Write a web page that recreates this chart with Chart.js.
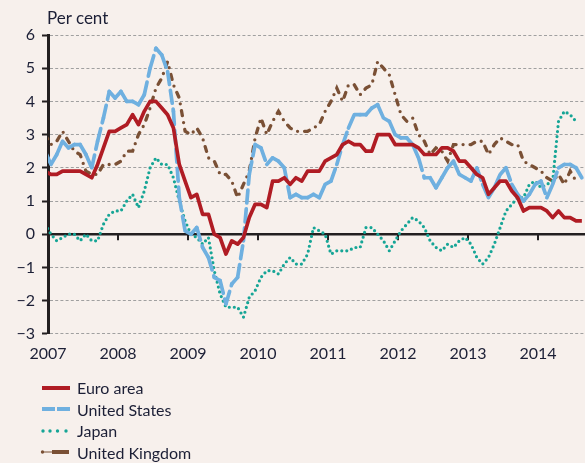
<!DOCTYPE html>
<html lang="en">
<head>
    <meta charset="UTF-8">
    <title>Consumer price inflation</title>
    <script src="https://cdn.jsdelivr.net/npm/chart.js"></script>
    <style>
        body { margin: 0; background: #f7f0ec; font-family: Lato, "Open Sans", sans-serif; color: #1c1f36; }
        #wrap { position: relative; width: 585px; height: 463px; }
        #unit { position: absolute; left: 47px; top: 7px; font-size: 17px; }
        #legend { position: absolute; left: 40px; top: 377px; font-size: 16px; }
        #legend div { height: 21.5px; line-height: 21.5px; display: flex; align-items: center; }
        #legend svg { width: 34px; height: 12px; margin-right: 3px; }
    </style>
</head>
<body>
<div id="wrap">
    <canvas id="inflationChart"></canvas>
    <div id="unit">Per cent</div>
    <div id="legend">
        <div><svg viewBox="0 0 34 12"><line x1="2" y1="6" x2="30" y2="6" stroke="#b01c24" stroke-width="4"/></svg>Euro area</div>
        <div><svg viewBox="0 0 34 12"><line x1="2" y1="6" x2="15" y2="6" stroke="#6fb0e0" stroke-width="4"/><line x1="17" y1="6" x2="30" y2="6" stroke="#6fb0e0" stroke-width="4"/></svg>United States</div>
        <div><svg viewBox="0 0 34 12"><circle cx="3" cy="6" r="1.7" fill="#16a596"/><circle cx="10" cy="6" r="1.7" fill="#16a596"/><circle cx="17.5" cy="6" r="1.7" fill="#16a596"/><circle cx="26" cy="6" r="1.7" fill="#16a596"/></svg>Japan</div>
        <div><svg viewBox="0 0 34 12"><circle cx="2.5" cy="6" r="1.7" fill="#7a5035"/><line x1="4" y1="6" x2="12" y2="6" stroke="#7a5035" stroke-width="1"/><line x1="12" y1="6" x2="29" y2="6" stroke="#7a5035" stroke-width="4"/></svg>United Kingdom</div>
    </div>
</div>

<script>
    // monthly year-on-year rates, first observation December 2006
    const startYear = 2006, startMonth = 12;
    const years = [2007, 2008, 2009, 2010, 2011, 2012, 2013, 2014];
    const yTicks = [-3, -2, -1, 0, 1, 2, 3, 4, 5, 6];

    const euroArea = [1.9,
        1.8, 1.8, 1.9, 1.9, 1.9, 1.9, 1.8, 1.7, 2.1, 2.6, 3.1, 3.1,
        3.2, 3.3, 3.6, 3.3, 3.7, 4.0, 4.0, 3.8, 3.6, 3.2, 2.1, 1.6,
        1.1, 1.2, 0.6, 0.6, 0.0, -0.1, -0.6, -0.2, -0.3, -0.1, 0.5, 0.9,
        0.9, 0.8, 1.6, 1.6, 1.7, 1.5, 1.7, 1.6, 1.9, 1.9, 1.9, 2.2,
        2.3, 2.4, 2.7, 2.8, 2.7, 2.7, 2.5, 2.5, 3.0, 3.0, 3.0, 2.7,
        2.7, 2.7, 2.7, 2.6, 2.4, 2.4, 2.4, 2.6, 2.6, 2.5, 2.2, 2.2,
        2.0, 1.8, 1.7, 1.2, 1.4, 1.6, 1.6, 1.3, 1.1, 0.7, 0.8, 0.8,
        0.8, 0.7, 0.5, 0.7, 0.5, 0.5, 0.4, 0.4];
    const unitedStates = [2.5,
        2.1, 2.4, 2.8, 2.6, 2.7, 2.7, 2.4, 2.0, 2.8, 3.5, 4.3, 4.1,
        4.3, 4.0, 4.0, 3.9, 4.2, 5.0, 5.6, 5.4, 4.9, 3.7, 1.1, 0.1,
        0.0, 0.2, -0.4, -0.7, -1.3, -1.4, -2.1, -1.5, -1.3, -0.2, 1.8, 2.7,
        2.6, 2.1, 2.3, 2.2, 2.0, 1.1, 1.2, 1.1, 1.1, 1.2, 1.1, 1.5,
        1.6, 2.1, 2.7, 3.2, 3.6, 3.6, 3.6, 3.8, 3.9, 3.5, 3.4, 3.0,
        2.9, 2.9, 2.7, 2.3, 1.7, 1.7, 1.4, 1.7, 2.0, 2.2, 1.8, 1.7,
        1.6, 2.0, 1.5, 1.1, 1.4, 1.8, 2.0, 1.5, 1.2, 1.0, 1.2, 1.5,
        1.6, 1.1, 1.5, 2.0, 2.1, 2.1, 2.0, 1.7];
    const japan = [0.3,
        0.0, -0.2, -0.1, 0.0, 0.0, -0.2, 0.0, -0.2, -0.2, 0.3, 0.6, 0.7,
        0.7, 1.0, 1.2, 0.8, 1.3, 2.0, 2.3, 2.1, 2.1, 1.7, 1.0, 0.4,
        0.0, -0.1, -0.3, -0.1, -1.1, -1.8, -2.2, -2.2, -2.2, -2.5, -1.9, -1.7,
        -1.3, -1.1, -1.1, -1.2, -0.9, -0.7, -0.9, -0.9, -0.6, 0.2, 0.1, 0.0,
        -0.6, -0.5, -0.5, -0.5, -0.4, -0.4, 0.2, 0.2, 0.0, -0.2, -0.5, -0.2,
        0.1, 0.3, 0.5, 0.4, 0.2, -0.2, -0.4, -0.5, -0.3, -0.4, -0.2, -0.1,
        -0.3, -0.7, -0.9, -0.7, -0.3, 0.2, 0.7, 0.9, 1.1, 1.1, 1.5, 1.6,
        1.4, 1.5, 1.6, 3.4, 3.7, 3.6, 3.4];
    const unitedKingdom = [3.0,
        2.7, 2.8, 3.1, 2.8, 2.5, 2.4, 1.9, 1.8, 1.8, 2.1, 2.1, 2.1,
        2.2, 2.5, 2.5, 3.0, 3.3, 3.8, 4.4, 4.7, 5.2, 4.5, 4.1, 3.1,
        3.0, 3.2, 2.9, 2.3, 2.2, 1.8, 1.8, 1.6, 1.1, 1.5, 1.9, 2.9,
        3.5, 3.0, 3.4, 3.7, 3.4, 3.2, 3.1, 3.1, 3.1, 3.2, 3.3, 3.7,
        4.0, 4.4, 4.0, 4.5, 4.5, 4.2, 4.4, 4.5, 5.2, 5.0, 4.8, 4.2,
        3.6, 3.4, 3.5, 3.0, 2.8, 2.4, 2.6, 2.5, 2.2, 2.7, 2.7, 2.7,
        2.7, 2.8, 2.8, 2.4, 2.7, 2.9, 2.8, 2.7, 2.7, 2.2, 2.1, 2.0,
        1.9, 1.7, 1.6, 1.8, 1.5, 1.9, 1.6];

    // each value sits in the middle of its month
    function toPoints(values) {
        return values.map((v, i) => ({ x: startYear + (startMonth - 1 + i + 0.5) / 12, y: v }));
    }

    // restart the dash pattern on every segment, like the original
    const restartDash = { borderDashOffset: ctx => (ctx.p0DataIndex % 2) * 0.001 };

    const ink = '#231f20';
    const textColor = '#1c1f36';

    const zeroAxis = {
        id: 'zeroAxis',
        beforeDatasetsDraw(chart) {
            const { ctx, chartArea, scales } = chart;
            const y0 = scales.y.getPixelForValue(0);
            ctx.save();
            ctx.strokeStyle = ink;
            ctx.lineWidth = 2.5;
            ctx.beginPath();
            ctx.moveTo(chartArea.left, y0);
            ctx.lineTo(chartArea.right, y0);
            ctx.stroke();
            ctx.lineWidth = 2;
            years.slice(1).forEach(yr => {
                const x = Math.round(scales.x.getPixelForValue(yr));
                ctx.beginPath();
                ctx.moveTo(x, y0);
                ctx.lineTo(x, y0 + 6);
                ctx.stroke();
            });
            ctx.restore();
        }
    };

    const ctx = document.getElementById('inflationChart').getContext('2d');
    new Chart(ctx, {
        type: 'line',
        data: {
            datasets: [
                {
                    label: 'Euro area',
                    data: toPoints(euroArea),
                    borderColor: '#b01c24',
                    borderWidth: 3.7,
                    borderJoinStyle: 'round'
                },
                {
                    label: 'United States',
                    data: toPoints(unitedStates),
                    borderColor: '#6fb0e0',
                    borderWidth: 3.7,
                    borderDash: [13, 6],
                    borderCapStyle: 'round',
                    segment: restartDash
                },
                {
                    label: 'Japan',
                    data: toPoints(japan),
                    borderColor: '#16a596',
                    borderWidth: 3.2,
                    borderDash: [0, 5],
                    borderCapStyle: 'round'
                },
                {
                    label: 'United Kingdom',
                    data: toPoints(unitedKingdom),
                    borderColor: '#7a5035',
                    borderWidth: 3.3,
                    borderDash: [5, 7, 0, 7],
                    borderCapStyle: 'round'
                }
            ]
        },
        options: {
            responsive: true,
            maintainAspectRatio: false,
            animation: false,
            layout: { padding: { top: 35, right: 0, bottom: 90, left: 0 } },
            elements: { point: { radius: 0 }, line: { tension: 0 } },
            plugins: { legend: { display: false }, tooltip: { enabled: false } },
            scales: {
                x: {
                    type: 'linear',
                    min: 2007,
                    max: 2014.67,
                    afterBuildTicks: scale => { scale.ticks = years.map(v => ({ value: v })); },
                    ticks: {
                        autoSkip: false,
                        maxRotation: 0,
                        padding: 10,
                        color: textColor,
                        font: { family: 'Lato', size: 16 },
                        callback: v => String(v)
                    },
                    grid: { display: false, drawTicks: false },
                    border: { display: false }
                },
                y: {
                    min: -3,
                    max: 6,
                    afterBuildTicks: scale => { scale.ticks = yTicks.map(v => ({ value: v })); },
                    afterFit: scale => { scale.width = 48; },
                    ticks: {
                        padding: 7,
                        color: textColor,
                        font: { family: 'Lato', size: 16 },
                        callback: v => v < 0 ? '\u2212' + Math.abs(v) : String(v)
                    },
                    grid: {
                        color: c => c.tick && c.tick.value === 0 ? 'rgba(0,0,0,0)' : '#a0a0a0',
                        lineWidth: 1,
                        tickColor: ink,
                        tickLength: 6,
                        tickWidth: 2
                    },
                    border: { color: ink, width: 3, dash: [3, 2.2] }
                }
            }
        },
        plugins: [zeroAxis]
    });
</script>
</body>
</html>
